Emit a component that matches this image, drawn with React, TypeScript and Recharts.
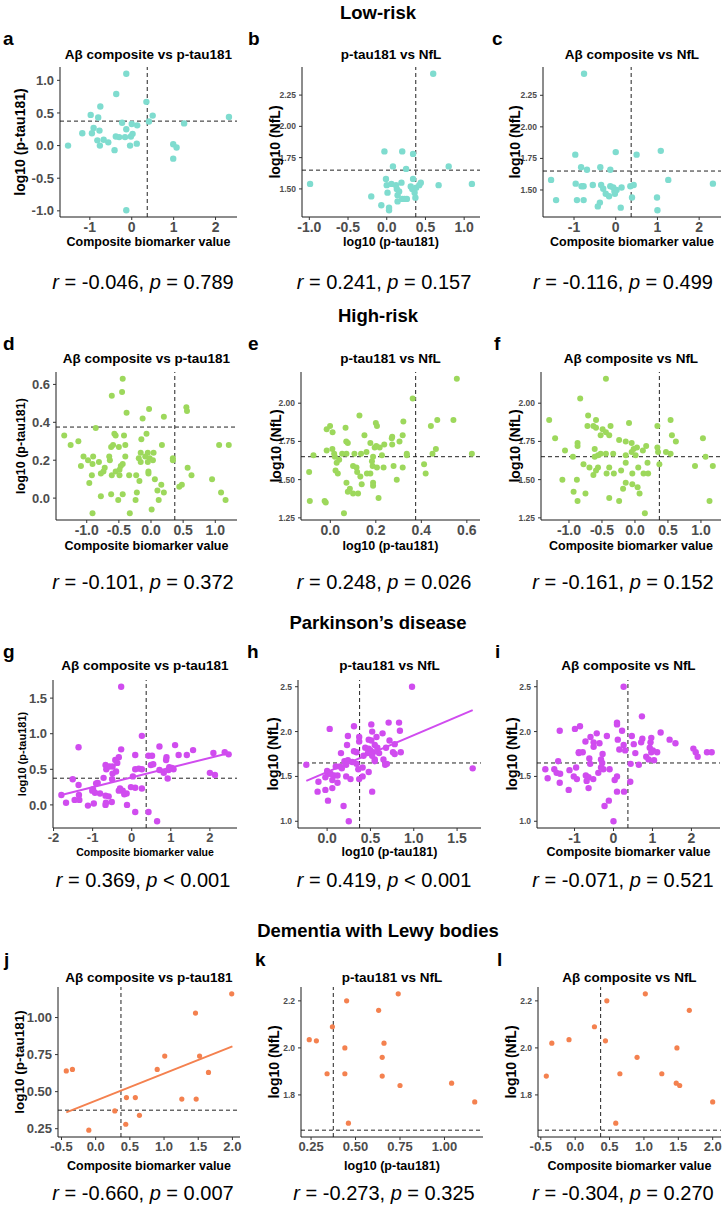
import React from 'react';
import { ScatterChart, Scatter, XAxis, YAxis, ReferenceLine } from 'recharts';

type Pt = [number, number];

const FONT = '"Liberation Sans", Arial, Helvetica, sans-serif';
const TEAL = '#7fdccf';
const GREEN = '#9dd85c';
const MAGENTA = '#d04cef';
const ORANGE = '#f4814f';

const AB_CUT = 0.37;
const PTAU_CUT = 0.375;
const NFL_CUT = 1.65;

// ---------- Low-risk ----------
const lowAbPtau: Pt[] = [
  [-0.13, 1.1], [-0.37, 0.79], [0.35, 0.67], [-0.75, 0.6], [-0.98, 0.47], [-0.8, 0.43], [0.5, 0.46], [2.32, 0.44],
  [-0.23, 0.35], [0.41, 0.37], [1.25, 0.34], [0.0, 0.33], [-0.91, 0.27], [-0.77, 0.23], [-0.13, 0.25], [0.13, 0.31],
  [-1.18, 0.19], [-0.95, 0.19], [0.02, 0.18], [-0.38, 0.14], [-0.3, 0.13], [-0.16, 0.13], [-0.02, 0.14], [-0.82, 0.08],
  [-0.67, 0.09], [-0.56, 0.05], [-1.52, 0.0], [-0.76, 0.0], [-0.04, 0.0], [0.12, 0.03], [-0.41, -0.07], [0.99, 0.02],
  [1.07, -0.03], [0.99, -0.2], [-0.13, -0.99],
];
const lowPtauNfl: Pt[] = [
  [-0.99, 1.54], [0.6, 2.42], [-0.03, 1.8], [0.2, 1.8], [0.34, 1.78], [0.08, 1.68], [0.25, 1.66], [0.8, 1.68],
  [0.67, 1.53], [1.1, 1.54], [-0.2, 1.44], [-0.07, 1.37], [0.03, 1.35], [0.03, 1.33], [-0.01, 1.58], [0.0, 1.53],
  [0.01, 1.47], [0.06, 1.54], [0.12, 1.53], [0.13, 1.5], [0.14, 1.45], [0.16, 1.48], [0.19, 1.55], [0.14, 1.4],
  [0.2, 1.42], [0.23, 1.42], [0.26, 1.42], [0.31, 1.52], [0.33, 1.5], [0.34, 1.58], [0.36, 1.47], [0.37, 1.43],
  [0.38, 1.51], [0.42, 1.53], [0.44, 1.55],
];
const lowAbNfl: Pt[] = [
  [-0.76, 2.42], [0.0, 1.8], [1.08, 1.81], [0.5, 1.78], [-0.97, 1.78], [-0.83, 1.68], [-0.69, 1.66], [-0.37, 1.68],
  [-0.13, 1.66], [-1.55, 1.58], [1.26, 1.58], [2.33, 1.55], [-0.96, 1.55], [-0.77, 1.53], [-0.82, 1.53], [-0.55, 1.54],
  [-0.35, 1.54], [-0.3, 1.51], [-0.13, 1.53], [-0.06, 1.52], [-0.03, 1.49], [0.02, 1.5], [-0.02, 1.47], [0.14, 1.52],
  [0.35, 1.53], [0.43, 1.54], [-0.24, 1.47], [-0.16, 1.45], [-1.43, 1.42], [-0.93, 1.42], [-0.77, 1.42], [-0.38, 1.4],
  [-0.43, 1.37], [0.12, 1.36], [0.39, 1.44], [0.99, 1.44], [1.0, 1.34],
];

// ---------- High-risk ----------
const highAbPtau: Pt[] = [
  [-0.44, 0.63], [-0.45, 0.56], [-0.61, 0.54], [0.55, 0.48], [0.56, 0.46], [-0.03, 0.47], [-0.38, 0.45], [-0.13, 0.42],
  [0.2, 0.43], [-0.86, 0.37], [-1.35, 0.33], [-0.57, 0.34], [-0.55, 0.33], [-0.42, 0.33], [-0.07, 0.34], [-0.15, 0.31],
  [-1.25, 0.28], [-1.13, 0.3], [-0.62, 0.27], [-0.59, 0.28], [-0.5, 0.27], [-0.4, 0.28], [0.17, 0.28], [1.21, 0.28],
  [1.06, 0.28], [-0.16, 0.24], [-0.65, 0.22], [-0.4, 0.22], [-0.09, 0.22], [-0.05, 0.24], [0.04, 0.24], [-1.05, 0.22],
  [-0.9, 0.22], [-0.98, 0.2], [-0.81, 0.19], [-0.64, 0.2], [-0.19, 0.21], [-0.02, 0.21], [0.03, 0.2], [0.34, 0.21],
  [0.34, 0.2], [-0.91, 0.18], [-0.05, 0.19], [-0.16, 0.19], [-1.09, 0.17], [-0.44, 0.18], [-0.47, 0.17], [-0.49, 0.15],
  [-0.72, 0.16], [0.57, 0.16], [-0.55, 0.14], [-0.78, 0.13], [-0.74, 0.14], [-0.04, 0.14], [-0.04, 0.13], [-0.92, 0.12],
  [-0.61, 0.12], [-0.49, 0.12], [-0.34, 0.12], [-0.23, 0.12], [0.63, 0.12], [0.95, 0.1], [-0.96, 0.08], [0.06, 0.1],
  [-0.18, 0.09], [0.16, 0.07], [0.48, 0.07], [0.44, 0.06], [0.1, 0.04], [0.2, 0.03], [-0.78, 0.01], [-0.62, 0.02],
  [-0.44, 0.02], [-0.22, 0.03], [-0.51, -0.01], [-0.24, -0.01], [0.12, -0.01], [1.09, 0.03], [1.16, -0.01], [-0.91, -0.08],
  [-0.33, -0.08], [0.01, -0.06],
];
const highPtauNfl: Pt[] = [
  [0.556, 2.16], [0.362, 2.03], [0.128, 1.92], [0.541, 1.89], [0.47, 1.89], [0.321, 1.88], [-0.001, 1.85], [0.2, 1.87],
  [0.205, 1.85], [-0.016, 1.83], [0.067, 1.84], [0.442, 1.85], [0.01, 1.81], [0.318, 1.79], [0.15, 1.79], [0.272, 1.78],
  [0.27, 1.77], [0.07, 1.75], [0.077, 1.74], [0.176, 1.74], [0.237, 1.73], [0.272, 1.73], [0.304, 1.75], [0.195, 1.71],
  [0.202, 1.72], [0.217, 1.71], [0.009, 1.7], [0.464, 1.7], [-0.016, 1.69], [0.071, 1.67], [0.106, 1.67], [0.135, 1.67],
  [0.159, 1.68], [0.052, 1.67], [0.017, 1.67], [-0.074, 1.66], [0.227, 1.66], [0.336, 1.67], [0.336, 1.66], [0.622, 1.67],
  [0.449, 1.67], [0.02, 1.65], [0.188, 1.65], [0.039, 1.63], [0.028, 1.61], [0.412, 1.6], [0.1, 1.59], [0.186, 1.59],
  [0.278, 1.59], [0.183, 1.62], [0.115, 1.58], [0.205, 1.58], [0.234, 1.58], [0.318, 1.58], [0.023, 1.56], [0.118, 1.55],
  [0.161, 1.54], [0.176, 1.54], [0.033, 1.54], [0.419, 1.54], [-0.093, 1.55], [0.292, 1.5], [0.132, 1.52], [0.071, 1.48],
  [0.188, 1.48], [0.188, 1.46], [0.138, 1.47], [0.086, 1.44], [0.077, 1.42], [0.1, 1.41], [0.122, 1.41], [0.212, 1.38],
  [-0.09, 1.36], [-0.025, 1.36], [-0.02, 1.35], [0.06, 1.28],
];
const highAbNfl: Pt[] = [
  [-0.44, 2.16], [-0.83, 2.03], [-1.3, 1.89], [-0.71, 1.92], [-0.59, 1.89], [0.54, 1.89], [-0.09, 1.87], [-0.72, 1.85],
  [-0.63, 1.85], [-0.59, 1.84], [-0.37, 1.85], [0.34, 1.85], [-0.49, 1.83], [-0.44, 1.81], [-0.52, 1.79], [-0.39, 1.79],
  [0.56, 1.79], [-1.21, 1.77], [1.03, 1.77], [-0.24, 1.76], [-0.14, 1.75], [0.62, 1.75], [-0.87, 1.74], [-0.05, 1.74],
  [0.17, 1.72], [-0.87, 1.72], [0.34, 1.71], [0.03, 1.71], [-0.02, 1.7], [-0.61, 1.7], [-1.06, 1.69], [0.12, 1.69],
  [-0.05, 1.68], [0.35, 1.68], [0.47, 1.68], [-0.44, 1.67], [-0.33, 1.67], [-0.52, 1.67], [-0.56, 1.66], [-0.14, 1.66],
  [0.01, 1.66], [0.54, 1.67], [-0.94, 1.65], [-0.61, 1.65], [1.07, 1.65], [-0.14, 1.61], [0.19, 1.61], [-0.78, 1.6],
  [0.37, 1.6], [0.91, 1.59], [1.18, 1.59], [-0.69, 1.58], [-0.56, 1.58], [-0.39, 1.58], [0.05, 1.58], [-0.59, 1.56],
  [-0.21, 1.56], [-0.32, 1.54], [-0.43, 1.54], [-0.04, 1.54], [0.13, 1.54], [0.2, 1.54], [-0.63, 1.53], [-1.1, 1.5],
  [-0.88, 1.5], [-0.14, 1.48], [-0.04, 1.47], [0.04, 1.45], [-0.18, 1.44], [-0.93, 1.42], [-0.75, 1.41], [0.07, 1.41],
  [-0.87, 1.36], [-0.39, 1.38], [-0.24, 1.36], [1.13, 1.36], [0.15, 1.28],
];

// ---------- Parkinson's disease ----------
const pdAbPtau: Pt[] = [
  [-0.27, 1.66], [0.26, 0.97], [-1.36, 0.81], [-0.27, 0.78], [1.11, 0.84], [1.57, 0.77], [0.71, 0.82], [0.09, 0.7],
  [0.43, 0.69], [0.52, 0.69], [1.2, 0.7], [1.41, 0.7], [2.09, 0.73], [2.38, 0.74], [2.48, 0.71], [-0.33, 0.67],
  [-0.42, 0.63], [-0.67, 0.56], [-0.57, 0.54], [-0.49, 0.54], [-0.37, 0.59], [0.49, 0.56], [0.55, 0.57], [0.88, 0.63],
  [0.89, 0.67], [-0.65, 0.5], [-0.4, 0.47], [-0.49, 0.44], [0.09, 0.5], [0.18, 0.51], [0.26, 0.5], [0.71, 0.49],
  [0.82, 0.45], [0.94, 0.49], [1.03, 0.52], [1.07, 0.5], [2.0, 0.45], [2.13, 0.42], [-1.51, 0.36], [-0.72, 0.38],
  [-0.5, 0.36], [0.92, 0.37], [0.03, 0.4], [-1.36, 0.28], [-0.91, 0.3], [-0.87, 0.31], [-0.99, 0.22], [-0.94, 0.17],
  [-0.81, 0.16], [-1.01, 0.2], [-1.8, 0.14], [-1.35, 0.14], [-0.67, 0.13], [-0.59, 0.12], [-0.33, 0.2], [-0.23, 0.2],
  [-0.19, 0.15], [-0.13, 0.16], [-0.02, 0.25], [0.09, 0.24], [-0.3, 0.23], [0.26, 0.23], [-1.46, 0.07], [-1.34, 0.07],
  [-1.68, 0.03], [-1.12, -0.01], [-0.97, 0.02], [-0.66, 0.03], [-0.51, 0.04], [-0.67, 0.0], [-0.12, 0.0], [0.09, -0.1],
  [0.43, -0.1], [0.65, -0.23], [0.96, 0.53],
];
const pdAbPtauFit: Pt[] = [[-1.8, 0.14], [2.5, 0.73]];
const pdPtauNfl: Pt[] = [
  [0.98, 2.5], [0.03, 2.03], [0.31, 2.06], [0.83, 2.1], [0.71, 2.1], [0.51, 2.08], [0.24, 1.95], [0.37, 1.94],
  [0.57, 1.94], [0.52, 2.0], [0.84, 2.01], [0.48, 1.91], [0.51, 1.9], [0.72, 1.9], [0.64, 1.98], [0.23, 1.85],
  [0.37, 1.89], [0.44, 1.82], [0.48, 1.81], [0.55, 1.85], [0.68, 1.82], [0.78, 1.86], [0.16, 1.76], [0.31, 1.78],
  [0.34, 1.77], [0.5, 1.79], [0.53, 1.77], [0.6, 1.76], [0.47, 1.76], [0.52, 1.73], [0.42, 1.73], [0.58, 1.82],
  [0.76, 1.77], [0.85, 1.77], [0.78, 1.75], [0.65, 1.69], [0.55, 1.69], [0.55, 1.67], [0.2, 1.67], [0.24, 1.68],
  [0.29, 1.66], [0.34, 1.64], [-0.24, 1.63], [0.67, 1.63], [0.69, 1.64], [0.1, 1.61], [0.15, 1.61], [0.22, 1.63],
  [0.17, 1.59], [0.41, 1.6], [0.36, 1.58], [0.48, 1.55], [1.68, 1.59], [0.0, 1.56], [0.01, 1.53], [0.04, 1.53],
  [0.08, 1.51], [0.12, 1.51], [-0.02, 1.49], [0.06, 1.46], [0.12, 1.43], [0.22, 1.5], [0.27, 1.47], [0.37, 1.47],
  [0.41, 1.5], [-0.1, 1.44], [-0.02, 1.35], [0.06, 1.37], [-0.11, 1.33], [0.52, 1.33], [0.01, 1.23], [0.19, 1.17],
  [0.25, 1.0],
];
const pdPtauNflFit: Pt[] = [[-0.24, 1.45], [1.68, 2.24]];
const pdAbNfl: Pt[] = [
  [0.26, 2.5], [0.73, 2.17], [-1.38, 2.01], [-0.99, 2.03], [-0.86, 2.06], [0.09, 2.1], [0.09, 2.08], [0.22, 2.01],
  [1.21, 1.99], [-0.43, 1.98], [-0.59, 1.94], [-0.17, 1.95], [0.47, 1.95], [-0.51, 1.88], [-0.51, 1.83], [-0.36, 1.87],
  [-0.72, 1.89], [0.11, 1.91], [0.74, 1.92], [0.97, 1.93], [1.44, 1.91], [1.59, 1.87], [0.26, 1.85], [0.3, 1.79],
  [0.15, 1.8], [0.52, 1.86], [0.71, 1.88], [0.95, 1.88], [0.93, 1.82], [-0.89, 1.77], [-0.79, 1.77], [-0.89, 1.76],
  [1.01, 1.79], [1.12, 1.77], [0.97, 1.77], [2.05, 1.81], [2.11, 1.77], [2.16, 1.72], [2.4, 1.77], [2.52, 1.77],
  [0.56, 1.76], [0.84, 1.72], [0.9, 1.69], [1.04, 1.68], [-0.62, 1.7], [-0.28, 1.75], [-0.32, 1.69], [-1.42, 1.67],
  [-0.6, 1.64], [-0.29, 1.65], [0.44, 1.64], [0.65, 1.63], [-1.75, 1.58], [-1.52, 1.58], [-1.46, 1.54], [-0.96, 1.6],
  [-0.32, 1.6], [-0.26, 1.58], [-0.1, 1.58], [-1.37, 1.53], [-1.13, 1.57], [-1.02, 1.5], [-0.94, 1.47], [-0.71, 1.51],
  [-0.64, 1.49], [-0.69, 1.45], [-0.52, 1.47], [-0.39, 1.54], [-1.69, 1.48], [-1.38, 1.43], [0.09, 1.5], [0.03, 1.46],
  [0.43, 1.44], [-1.15, 1.35], [-0.64, 1.37], [0.09, 1.33], [0.27, 1.33], [-0.12, 1.23], [-0.23, 1.17], [0.0, 1.0],
];

// ---------- Dementia with Lewy bodies ----------
const dlbAbPtau: Pt[] = [
  [1.99, 1.16], [1.46, 1.03], [1.01, 0.74], [1.52, 0.74], [0.9, 0.65], [1.65, 0.63], [-0.43, 0.64], [-0.34, 0.65],
  [0.45, 0.46], [0.58, 0.46], [1.26, 0.45], [1.47, 0.45], [0.28, 0.37], [0.64, 0.34], [0.44, 0.28], [-0.1, 0.24],
];
const dlbAbPtauFit: Pt[] = [[-0.43, 0.36], [2.0, 0.805]];
const dlbPtauNfl: Pt[] = [
  [0.24, 2.035], [0.28, 2.03], [0.34, 1.89], [0.37, 2.09], [0.44, 2.0], [0.44, 1.89], [0.45, 2.2], [0.46, 1.68],
  [0.63, 2.16], [0.66, 2.02], [0.65, 1.96], [0.65, 1.88], [0.74, 2.23], [0.75, 1.84], [1.04, 1.85], [1.17, 1.77],
];
const dlbAbNfl: Pt[] = [
  [-0.42, 1.88], [-0.34, 2.02], [-0.09, 2.035], [0.28, 2.09], [0.44, 2.03], [0.46, 2.2], [0.59, 1.68], [0.65, 1.89],
  [0.9, 1.96], [1.02, 2.23], [1.26, 1.89], [1.47, 1.85], [1.48, 2.0], [1.52, 1.84], [1.66, 2.16], [2.0, 1.77],
];

// ---------- Text ----------
const groupTitles = ['Low-risk', 'High-risk', 'Parkinson\u2019s disease', 'Dementia with Lewy bodies'];
const letters = ['a', 'b', 'c', 'd', 'e', 'f', 'g', 'h', 'i', 'j', 'k', 'l'];
const T_AB_PTAU = 'A\u03b2 composite vs p-tau181';
const T_PTAU_NFL = 'p-tau181 vs NfL';
const T_AB_NFL = 'A\u03b2 composite vs NfL';
const X_COMP = 'Composite biomarker value';
const X_PTAU = 'log10 (p-tau181)';
const Y_PTAU = 'log10 (p-tau181)';
const Y_NFL = 'log10 (NfL)';
const statR = ['-0.046', '0.241', '-0.116', '-0.101', '0.248', '-0.161', '0.369', '0.419', '-0.071', '-0.660', '-0.273', '-0.304'];
const statP = ['= 0.789', '= 0.157', '= 0.499', '= 0.372', '= 0.026', '= 0.152', '< 0.001', '< 0.001', '= 0.521', '= 0.007', '= 0.325', '= 0.270'];

// tick values
const ticksCompInt = [-2, -1, 0, 1, 2];
const ticksHalf = [-1, -0.5, 0, 0.5, 1];
const ticksNflQ = [1.25, 1.5, 1.75, 2, 2.25];
const ticksPtauD = [0, 0.2, 0.4, 0.6];
const ticksPtauE = [0, 0.2, 0.4, 0.6];
const ticksPdPtau = [0, 0.5, 1, 1.5];
const ticksPdNfl = [1, 1.5, 2, 2.5];
const ticksDlbComp = [-0.5, 0, 0.5, 1, 1.5, 2];
const ticksDlbPtau = [0.25, 0.5, 0.75, 1];
const ticksDlbNfl = [1.8, 2.0, 2.2];

type Row = { titleY: number; letterY: number; panelTitleY: number; xTitleY: number; statY: number; dotR: number };
const rows: Row[] = [
  { titleY: 18.5, letterY: 45, panelTitleY: 59, xTitleY: 246, statY: 289, dotR: 3.2 },
  { titleY: 321.5, letterY: 350, panelTitleY: 363, xTitleY: 550, statY: 589, dotR: 3 },
  { titleY: 629, letterY: 658, panelTitleY: 670, xTitleY: 856, statY: 887, dotR: 3.2 },
  { titleY: 937, letterY: 966, panelTitleY: 982, xTitleY: 1170, statY: 1200, dotR: 2.6 },
];

type Panel = {
  data: Pt[]; fit?: Pt[]; color: string; xCut: number; yCut: number;
  xTicks: number[]; yTicks: number[]; xd: number; yd: number;
  rect: [number, number, number, number];
  title: string; xTitle: string; yTitle: string;
  xtFs: number; ytFs: number; xTitleFs: number; yTitleFs: number; yTitleX: number; letterX: number; statX: number;
};

const SMALL = 8.5;

const panels: Panel[] = [
  { data: lowAbPtau, color: TEAL, xCut: AB_CUT, yCut: PTAU_CUT, xTicks: ticksCompInt, yTicks: ticksHalf, xd: 0, yd: 1, rect: [60, 67, 237, 217], title: T_AB_PTAU, xTitle: X_COMP, yTitle: Y_PTAU, xtFs: 14, ytFs: 13, xTitleFs: 12.5, yTitleFs: 14, yTitleX: 20, letterX: 3, statX: 143 },
  { data: lowPtauNfl, color: TEAL, xCut: PTAU_CUT, yCut: NFL_CUT, xTicks: ticksHalf, yTicks: ticksNflQ, xd: 1, yd: 2, rect: [302, 67, 480, 217], title: T_PTAU_NFL, xTitle: X_PTAU, yTitle: Y_NFL, xtFs: 14, ytFs: SMALL, xTitleFs: 12.5, yTitleFs: 14, yTitleX: 275, letterX: 248, statX: 384 },
  { data: lowAbNfl, color: TEAL, xCut: AB_CUT, yCut: NFL_CUT, xTicks: ticksCompInt, yTicks: ticksNflQ, xd: 0, yd: 2, rect: [543, 67, 721, 217], title: T_AB_NFL, xTitle: X_COMP, yTitle: Y_NFL, xtFs: 14, ytFs: SMALL, xTitleFs: 12.5, yTitleFs: 14, yTitleX: 515, letterX: 492, statX: 623 },

  { data: highAbPtau, color: GREEN, xCut: AB_CUT, yCut: PTAU_CUT, xTicks: ticksHalf, yTicks: ticksPtauD, xd: 1, yd: 1, rect: [56, 372, 237, 520], title: T_AB_PTAU, xTitle: X_COMP, yTitle: Y_PTAU, xtFs: 14, ytFs: 13, xTitleFs: 12.5, yTitleFs: 12.5, yTitleX: 21, letterX: 3, statX: 143 },
  { data: highPtauNfl, color: GREEN, xCut: PTAU_CUT, yCut: NFL_CUT, xTicks: ticksPtauE, yTicks: ticksNflQ, xd: 1, yd: 2, rect: [301, 372, 480, 520], title: T_PTAU_NFL, xTitle: X_PTAU, yTitle: Y_NFL, xtFs: 14, ytFs: SMALL, xTitleFs: 12.5, yTitleFs: 14, yTitleX: 276, letterX: 248, statX: 384 },
  { data: highAbNfl, color: GREEN, xCut: AB_CUT, yCut: NFL_CUT, xTicks: ticksHalf, yTicks: ticksNflQ, xd: 1, yd: 2, rect: [541, 372, 721, 520], title: T_AB_NFL, xTitle: X_COMP, yTitle: Y_NFL, xtFs: 14, ytFs: SMALL, xTitleFs: 12.5, yTitleFs: 14, yTitleX: 515, letterX: 494, statX: 623 },

  { data: pdAbPtau, fit: pdAbPtauFit, color: MAGENTA, xCut: AB_CUT, yCut: PTAU_CUT, xTicks: ticksCompInt, yTicks: ticksPdPtau, xd: 0, yd: 1, rect: [53, 680, 237, 828], title: T_AB_PTAU, xTitle: X_COMP, yTitle: Y_PTAU, xtFs: 13, ytFs: 13, xTitleFs: 10.5, yTitleFs: 11, yTitleX: 22, letterX: 3, statX: 143 },
  { data: pdPtauNfl, fit: pdPtauNflFit, color: MAGENTA, xCut: PTAU_CUT, yCut: NFL_CUT, xTicks: ticksPdPtau, yTicks: ticksPdNfl, xd: 1, yd: 1, rect: [298, 680, 481, 828], title: T_PTAU_NFL, xTitle: X_PTAU, yTitle: Y_NFL, xtFs: 14, ytFs: SMALL, xTitleFs: 12.5, yTitleFs: 14, yTitleX: 273, letterX: 247, statX: 384 },
  { data: pdAbNfl, color: MAGENTA, xCut: AB_CUT, yCut: NFL_CUT, xTicks: ticksCompInt, yTicks: ticksPdNfl, xd: 0, yd: 1, rect: [537, 680, 720, 828], title: T_AB_NFL, xTitle: X_COMP, yTitle: Y_NFL, xtFs: 14, ytFs: SMALL, xTitleFs: 12.5, yTitleFs: 14, yTitleX: 512, letterX: 495, statX: 623 },

  { data: dlbAbPtau, fit: dlbAbPtauFit, color: ORANGE, xCut: AB_CUT, yCut: PTAU_CUT, xTicks: ticksDlbComp, yTicks: ticksDlbPtau, xd: 1, yd: 2, rect: [58, 987, 240, 1137], title: T_AB_PTAU, xTitle: X_COMP, yTitle: Y_PTAU, xtFs: 13, ytFs: 13, xTitleFs: 12.5, yTitleFs: 13.5, yTitleX: 19, letterX: 4, statX: 143 },
  { data: dlbPtauNfl, color: ORANGE, xCut: PTAU_CUT, yCut: NFL_CUT, xTicks: ticksDlbPtau, yTicks: ticksDlbNfl, xd: 2, yd: 1, rect: [301, 987, 483, 1137], title: T_PTAU_NFL, xTitle: X_PTAU, yTitle: Y_NFL, xtFs: 13, ytFs: SMALL, xTitleFs: 12.5, yTitleFs: 14, yTitleX: 274, letterX: 255, statX: 384 },
  { data: dlbAbNfl, color: ORANGE, xCut: AB_CUT, yCut: NFL_CUT, xTicks: ticksDlbComp, yTicks: ticksDlbNfl, xd: 1, yd: 1, rect: [538, 987, 721, 1137], title: T_AB_NFL, xTitle: X_COMP, yTitle: Y_NFL, xtFs: 13, ytFs: SMALL, xTitleFs: 12.5, yTitleFs: 14, yTitleX: 511, letterX: 497, statX: 623 },
];

function paddedDomain(vals: number[], cut: number): [number, number] {
  const lo = Math.min(...vals, cut);
  const hi = Math.max(...vals, cut);
  const pad = (hi - lo) * 0.05;
  return [lo - pad, hi + pad];
}

const YW = 50;
const XH = 30;
const MT = 5;
const MR = 5;

function PanelChart({ p, dotR }: { p: Panel; dotR: number }) {
  const [l, t, r, b] = p.rect;
  const w = r - l;
  const h = b - t;
  const pts = p.data.map(([x, y]) => ({ x, y }));
  const fit = p.fit ? p.fit.map(([x, y]) => ({ x, y })) : null;
  const xDom = paddedDomain(p.data.map((d) => d[0]), p.xCut);
  const yDom = paddedDomain(p.data.map((d) => d[1]), p.yCut);
  const tickStyle = (fs: number) => ({ fill: '#4d4d4d', fontSize: fs, fontWeight: 700, fontFamily: FONT });
  const color = p.color;
  return (
    <div style={{ position: 'absolute', left: l - YW, top: t - MT }}>
      <ScatterChart width={YW + w + MR} height={MT + h + XH} margin={{ top: MT, right: MR, left: 0, bottom: 0 }}>
        <XAxis
          type="number"
          dataKey="x"
          domain={xDom}
          allowDataOverflow
          ticks={p.xTicks.filter((v) => v >= xDom[0] && v <= xDom[1])}
          interval={0}
          tickFormatter={(v: number) => v.toFixed(p.xd)}
          height={XH}
          tickSize={3}
          tickMargin={2}
          axisLine={{ stroke: '#1a1a1a', strokeWidth: 1 }}
          tickLine={{ stroke: '#333', strokeWidth: 1 }}
          tick={tickStyle(p.xtFs)}
        />
        <YAxis
          type="number"
          dataKey="y"
          domain={yDom}
          allowDataOverflow
          ticks={p.yTicks.filter((v) => v >= yDom[0] && v <= yDom[1])}
          interval={0}
          tickFormatter={(v: number) => v.toFixed(p.yd)}
          width={YW}
          tickSize={3}
          tickMargin={3}
          axisLine={{ stroke: '#1a1a1a', strokeWidth: 1 }}
          tickLine={{ stroke: '#333', strokeWidth: 1 }}
          tick={tickStyle(p.ytFs)}
        />
        <ReferenceLine x={p.xCut} stroke="#222" strokeWidth={1} strokeDasharray="4 3" />
        <ReferenceLine y={p.yCut} stroke="#222" strokeWidth={1} strokeDasharray="4 3" />
        <Scatter
          data={pts}
          isAnimationActive={false}
          shape={(props: any) => <circle cx={props.cx} cy={props.cy} r={dotR} fill={color} />}
        />
        {fit && (
          <Scatter
            data={fit}
            isAnimationActive={false}
            line={{ stroke: color, strokeWidth: 2 }}
            lineType="joint"
            shape={() => <g />}
          />
        )}
      </ScatterChart>
    </div>
  );
}

function Overlay() {
  return (
    <svg width={725} height={1213} style={{ position: 'absolute', left: 0, top: 0, pointerEvents: 'none' }} fontFamily={FONT}>
      {rows.map((row, ri) => (
        <text key={'g' + ri} x={378} y={row.titleY} textAnchor="middle" fontSize={18.5} fontWeight={700} fill="#000">
          {groupTitles[ri]}
        </text>
      ))}
      {panels.map((p, i) => {
        const row = rows[Math.floor(i / 3)];
        const [l, t, r, b] = p.rect;
        const cx = (l + r) / 2;
        const cy = (t + b) / 2;
        return (
          <g key={i}>
            <text x={p.letterX} y={row.letterY} fontSize={19} fontWeight={700} fill="#000">{letters[i]}</text>
            <text x={cx} y={row.panelTitleY} textAnchor="middle" fontSize={13.5} fontWeight={700} fill="#000">{p.title}</text>
            <text x={cx} y={row.xTitleY} textAnchor="middle" fontSize={p.xTitleFs} fontWeight={700} fill="#000">{p.xTitle}</text>
            <text
              x={p.yTitleX}
              y={cy}
              textAnchor="middle"
              dominantBaseline="central"
              fontSize={p.yTitleFs}
              fontWeight={700}
              fill="#000"
              transform={`rotate(-90 ${p.yTitleX} ${cy})`}
            >
              {p.yTitle}
            </text>
            <text x={p.statX} y={row.statY} textAnchor="middle" fontSize={20} fill="#000">
              <tspan fontStyle="italic">r</tspan>
              <tspan>{' = ' + statR[i] + ', '}</tspan>
              <tspan fontStyle="italic">p</tspan>
              <tspan>{' ' + statP[i]}</tspan>
            </text>
          </g>
        );
      })}
    </svg>
  );
}

export default function App() {
  return (
    <div style={{ position: 'absolute', left: 0, top: 0, width: 725, height: 1213, overflow: 'hidden', background: '#fff' }}>
      {panels.map((p, i) => (
        <PanelChart key={i} p={p} dotR={rows[Math.floor(i / 3)].dotR} />
      ))}
      <Overlay />
    </div>
  );
}
